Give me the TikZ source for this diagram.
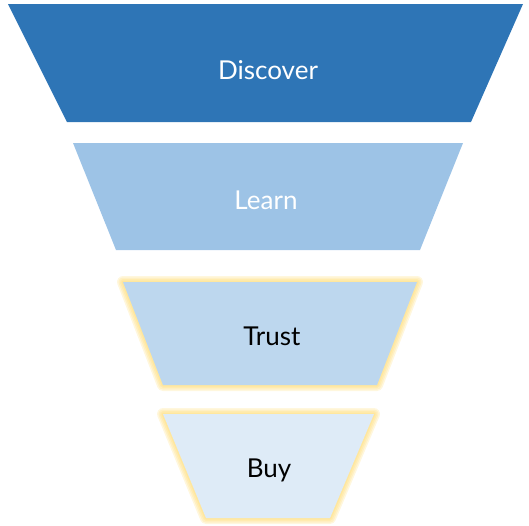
\documentclass[tikz,border=0pt]{standalone}
\usepackage{fontspec}
\setmainfont{Lato}
\definecolor{cDisc}{HTML}{2E75B6}
\definecolor{cLearn}{HTML}{9DC3E6}
\definecolor{cTrust}{HTML}{BDD7EE}
\definecolor{cBuy}{HTML}{DEEBF7}
\definecolor{cGlow}{HTML}{FFD966}
\tikzset{
  lbl/.style={font=\fontsize{26}{26}\selectfont, inner sep=0pt},
  glowline/.style={draw=cGlow, line join=round, line width=#1, draw opacity=0.22},
}
\begin{document}
\begin{tikzpicture}[x=1pt,y=-1pt]
\useasboundingbox (0,0) rectangle (529,525);
% Discover
\fill[cDisc] (8,4) -- (523,4) -- (471,122) -- (67,122) -- cycle;
\node[lbl, text=white] (disc) at (268,70) {Discover};
% Learn
\fill[cLearn] (73,143) -- (463,143) -- (420,250) -- (116,250) -- cycle;
\node[lbl, text=white] (learn) at (266,200) {Learn};
% Trust with glow
\foreach \w in {12,9,6,3}{
  \draw[glowline=\w pt] (123,282) -- (417,282) -- (377,385) -- (163,385) -- cycle;
}
\fill[cTrust] (123,282) -- (417,282) -- (377,385) -- (163,385) -- cycle;
\node[lbl, text=black] (trust) at (272,336) {Trust};
% Buy with glow
\foreach \w in {12,9,6,3}{
  \draw[glowline=\w pt] (163,414) -- (374,414) -- (330,518) -- (206,518) -- cycle;
}
\fill[cBuy] (163,414) -- (374,414) -- (330,518) -- (206,518) -- cycle;
\node[lbl, text=black] (buy) at (269,470) {Buy};
\end{tikzpicture}
\end{document}
